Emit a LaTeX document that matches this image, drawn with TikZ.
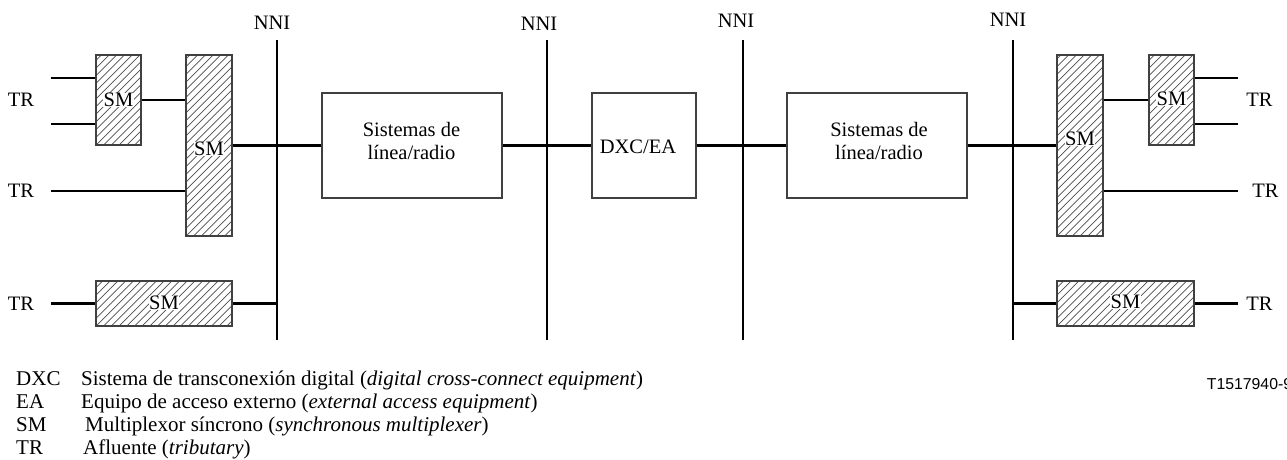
\documentclass[tikz,border=0pt]{standalone}
\usepackage{fontspec}
\setmainfont{Liberation Serif}
\newfontfamily\tagfont{Liberation Sans}
\begin{document}
\begin{tikzpicture}[x=1pt,y=-1pt,
  conn/.style={line width=2.2pt, line cap=butt},
  dfont/.style={font=\fontsize{20.5}{22.3}\selectfont},
  lfont/.style={font=\fontsize{21}{23}\selectfont},
  lbl/.style={dfont, inner sep=0pt},
  hatchline/.style={draw=black!70, line width=0.7pt},
  frame/.style={draw=black!75, line width=1.1pt, inner sep=0pt},
  smbox/.style={frame, path picture={
      \foreach \k in {-26,...,20}{
        \pgfmathsetmacro\hx{7.7*\k}
        \draw[hatchline] ([xshift=\hx pt]path picture bounding box.south west) -- ++(260pt,260pt);
      }}},
  smtext/.style={dfont, fill=white, inner sep=0.6pt},
  legab/.style={lfont, anchor=base west, inner sep=0pt},
]
\useasboundingbox (0,0) rectangle (1287,459);

% ---- system boxes
\node[frame, minimum width=180pt, minimum height=105pt] (sys1) at (412,145.5) {};
\node[frame, minimum width=104pt, minimum height=105pt] (dxc)  at (644,145.5) {};
\node[frame, minimum width=180pt, minimum height=105pt] (sys3) at (877,145.5) {};
\node[lbl, anchor=base] (sys1a) at (411.5,136.7) {Sistemas de};
\node[lbl, anchor=base] (sys1b) at (411.5,159) {línea/radio};
\node[lbl, anchor=base] (sys3a) at (879,136.7) {Sistemas de};
\node[lbl, anchor=base] (sys3b) at (879,159) {línea/radio};
\node[lbl, anchor=base] (dxct) at (638,153.3) {DXC/EA};

% ---- SM boxes
\node[smbox, minimum width=45pt, minimum height=90pt]  (smLa) at (118.5,100) {};
\node[smbox, minimum width=46pt, minimum height=181pt] (smLb) at (209,145.5) {};
\node[smbox, minimum width=136pt, minimum height=45pt] (smLc) at (164,303.5) {};
\node[smbox, minimum width=46pt, minimum height=181pt] (smRb) at (1080,145.5) {};
\node[smbox, minimum width=45pt, minimum height=90pt]  (smRa) at (1171.5,100) {};
\node[smbox, minimum width=137pt, minimum height=45pt] (smRc) at (1125.5,303.5) {};
\node[smtext] (smLaT) at (118.5,100) {SM};
\node[smtext] (smLbT) at (209,149) {SM};
\node[smtext] (smLcT) at (164,303) {SM};
\node[smtext] (smRbT) at (1080,139) {SM};
\node[smtext] (smRaT) at (1171.5,99) {SM};
\node[smtext] (smRcT) at (1125.5,302) {SM};

% ---- NNI lines
\foreach \n/\x/\lx/\ly in {1/277/272/29, 2/547/539/30, 3/743/736/27, 4/1013/1008/26}{
  \coordinate (nni\n top) at (\x,40);
  \coordinate (nni\n bot) at (\x,340);
  \draw[conn] (nni\n top) -- (nni\n bot);
  \node[lbl, anchor=base] (nni\n lab) at (\lx,\ly) {NNI};
}

% ---- left tributaries
\coordinate (trLa) at (51,78);
\coordinate (trLb) at (51,124);
\coordinate (trLc) at (51,191);
\coordinate (trLd) at (51,303.5);
\draw[conn] (trLa) -- (trLa -| smLa.west);
\draw[conn] (trLb) -- (trLb -| smLa.west);
\draw[conn] (smLa.east) -- (smLa.east -| smLb.west);
\draw[conn] (trLc) -- (trLc -| smLb.west);
\draw[conn] (trLd) -- (smLc.west);
\draw[conn] (smLc.east) -- (smLc.east -| nni1top);
\node[lbl] (trL1) at (21,100) {TR};
\node[lbl] (trL2) at (21,191) {TR};
\node[lbl] (trL3) at (21,303.5) {TR};

% ---- main chain
\draw[conn] (smLb.east) -- (sys1.west);
\draw[conn] (sys1.east) -- (dxc.west);
\draw[conn] (dxc.east) -- (sys3.west);
\draw[conn] (sys3.east) -- (smRb.west);

% ---- right tributaries
\coordinate (trRa) at (1238,78);
\coordinate (trRb) at (1238,124);
\coordinate (trRc) at (1238,191);
\coordinate (trRd) at (1238,303.5);
\draw[conn] (smRa.west -| smRb.east) -- (smRa.west);
\draw[conn] (trRa -| smRa.east) -- (trRa);
\draw[conn] (trRb -| smRa.east) -- (trRb);
\draw[conn] (trRc -| smRb.east) -- (trRc);
\draw[conn] (smRc.west -| nni4top) -- (smRc.west);
\draw[conn] (smRc.east) -- (trRd);
\node[lbl] (trR1) at (1259.5,100) {TR};
\node[lbl] (trR2) at (1265.5,191) {TR};
\node[lbl] (trR3) at (1259.5,303.5) {TR};

% ---- legend
\node[legab] (lgDXC) at (16,385) {DXC};
\node[legab] (lgEA)  at (16,408) {EA};
\node[legab] (lgSM)  at (16,431) {SM};
\node[legab] (lgTR)  at (16,454) {TR};
\node[legab] (lgDXCt) at (81,385) {Sistema de transconexión digital (\textit{digital cross-connect equipment})};
\node[legab] (lgEAt)  at (81,408) {Equipo de acceso externo (\textit{external access equipment})};
\node[legab] (lgSMt)  at (85,431) {Multiplexor síncrono (\textit{synchronous multiplexer})};
\node[legab] (lgTRt)  at (83,454) {Afluente (\textit{tributary})};

\node[anchor=base west, inner sep=0pt, font=\tagfont\fontsize{15.8}{18}\selectfont] (tag) at (1206.7,389) {T1517940-9};
\end{tikzpicture}
\end{document}
